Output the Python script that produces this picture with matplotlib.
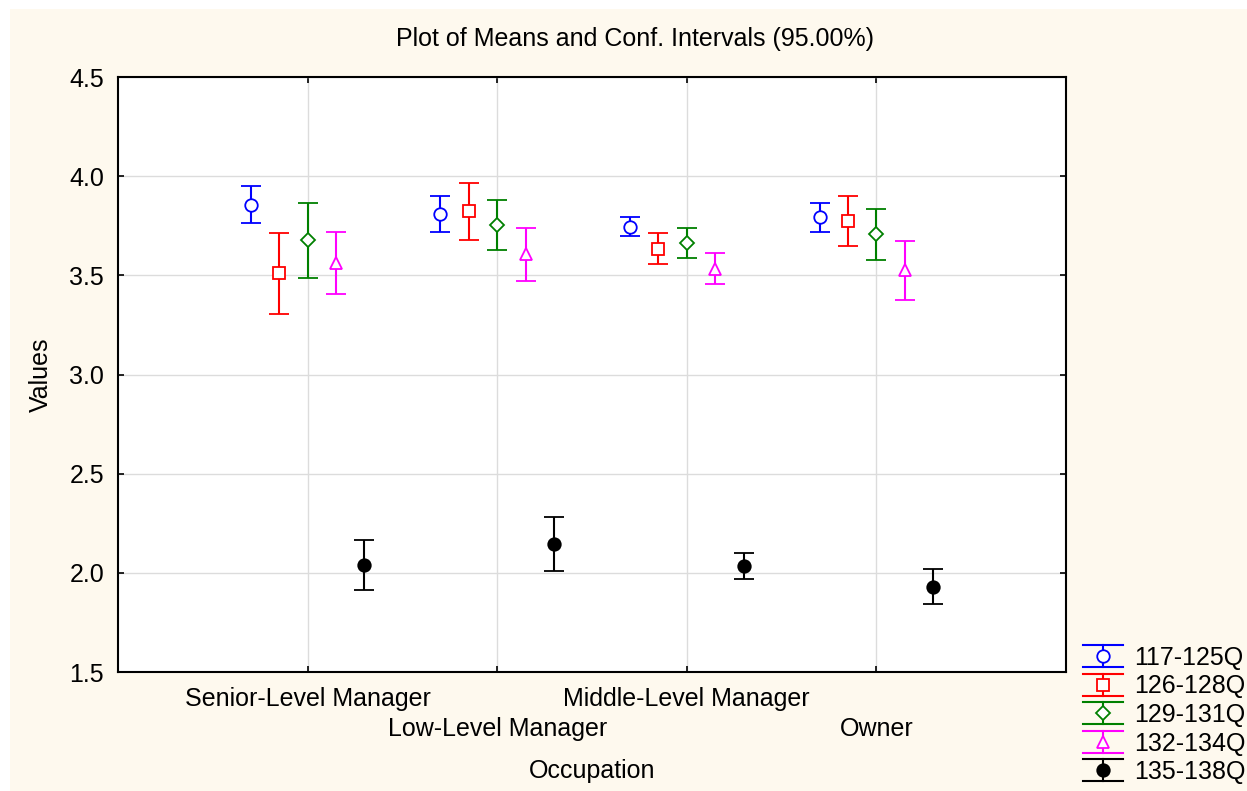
import matplotlib
matplotlib.use("Agg")
import matplotlib.pyplot as plt
import numpy as np
from matplotlib.legend_handler import HandlerBase
from matplotlib.lines import Line2D
from matplotlib.patches import Rectangle
from matplotlib.container import ErrorbarContainer

plt.rcParams['font.family'] = ['Liberation Sans', 'DejaVu Sans']

# Occupation groups along the x axis
categories = ["Senior-Level Manager", "Low-Level Manager", "Middle-Level Manager", "Owner"]
series_names = ["117-125Q", "126-128Q", "129-131Q", "132-134Q", "135-138Q"]

# Group means and 95% confidence half-widths for each item block
mean_117_125 = [3.856, 3.810, 3.745, 3.792]
ci_117_125 = [0.093, 0.092, 0.048, 0.074]
mean_126_128 = [3.510, 3.822, 3.635, 3.773]
ci_126_128 = [0.203, 0.146, 0.080, 0.127]
mean_129_131 = [3.676, 3.754, 3.662, 3.706]
ci_129_131 = [0.188, 0.128, 0.077, 0.129]
mean_132_134 = [3.562, 3.606, 3.534, 3.525]
ci_132_134 = [0.158, 0.135, 0.079, 0.147]
mean_135_138 = [2.040, 2.145, 2.036, 1.931]
ci_135_138 = [0.128, 0.136, 0.065, 0.088]

means = [mean_117_125, mean_126_128, mean_129_131, mean_132_134, mean_135_138]
cis = [ci_117_125, ci_126_128, ci_129_131, ci_132_134, ci_135_138]
colors = ["#0000FF", "#FF0000", "#008000", "#FF00FF", "#000000"]
markers = ["o", "s", "D", "^", "o"]
msizes = [9, 9, 7, 9, 9]
filled = [False, False, False, False, True]
offsets = [-0.3, -0.15, 0.0, 0.15, 0.3]

cream = "#FEF9EE"

fig = plt.figure(figsize=(12.47, 7.91), dpi=100, facecolor="white")
fig.patches.append(Rectangle((10 / 1247, 0), 1, 1 - 9 / 791, transform=fig.transFigure,
                             facecolor=cream, edgecolor="none", zorder=-10))

ax = fig.add_axes([118 / 1247, 1 - 672 / 791, (1066 - 118) / 1247, (672 - 77) / 791])
ax.set_facecolor("white")

x = np.arange(1, len(categories) + 1)


class CappedBarHandler(HandlerBase):
    """Legend key: vertical bar with wide caps and the series marker."""

    def create_artists(self, legend, orig_handle, xdescent, ydescent,
                       width, height, fontsize, trans):
        line = orig_handle.lines[0]
        color = line.get_color()
        cx = width / 2 - xdescent
        cy = height / 2 - ydescent
        half = 0.44 * fontsize
        x0, x1 = -xdescent, width - xdescent
        stem = Line2D([cx, cx], [cy - half, cy + half], color=color, lw=1.5)
        top = Line2D([x0, x1], [cy + half, cy + half], color=color, lw=1.5)
        bot = Line2D([x0, x1], [cy - half, cy - half], color=color, lw=1.5)
        mark = Line2D([cx], [cy], linestyle="none", marker=line.get_marker(),
                      markersize=line.get_markersize(),
                      markerfacecolor=line.get_markerfacecolor(),
                      markeredgecolor=color, markeredgewidth=line.get_markeredgewidth())
        arts = [stem, top, bot, mark]
        for a in arts:
            a.set_transform(trans)
        return arts


handles = []
for m, c, col, mk, ms, fl, off, name in zip(means, cis, colors, markers, msizes,
                                             filled, offsets, series_names):
    h = ax.errorbar(x + off, m, yerr=c, fmt=mk, color=col, ecolor=col,
                    markersize=ms, markerfacecolor=col if fl else "white",
                    markeredgecolor=col, markeredgewidth=1.3,
                    elinewidth=1.5, capsize=7, capthick=1.5, label=name, zorder=3)
    handles.append(h)

ax.set_xlim(0, 5)
ax.set_ylim(1.5, 4.5)
ax.set_yticks(np.arange(1.5, 4.51, 0.5))
ax.set_yticklabels([f"{v:.1f}" for v in np.arange(1.5, 4.51, 0.5)])
ax.set_xticks(x)
ax.set_xticklabels(categories)
ax.grid(True, color="#DCDCDC", lw=1.0, zorder=0)
ax.set_axisbelow(True)
ax.tick_params(direction="in", top=True, right=True, length=4, width=1.2,
               labelsize=18, colors="black")
ax.tick_params(axis="y", pad=10)
# staggered category labels: alternate rows
for i, tick in enumerate(ax.xaxis.get_major_ticks()):
    tick.set_pad(11 if i % 2 == 0 else 32.5)
for sp in ax.spines.values():
    sp.set_linewidth(1.5)
    sp.set_color("black")

fig.text(635 / 1247, 1 - 39 / 791, "Plot of Means and Conf. Intervals (95.00%)",
         ha="center", va="center", fontsize=18)
fig.text(41 / 1247, 1 - 375 / 791, "Values", rotation=90, ha="center", va="center",
         fontsize=18)
fig.text(592 / 1247, 1 - 771 / 791, "Occupation", ha="center", va="center", fontsize=18)

ax.legend(handles=handles, labels=series_names,
          handler_map={ErrorbarContainer: CappedBarHandler()},
          loc="lower left", bbox_to_anchor=(1083 / 1247, 7 / 791),
          bbox_transform=fig.transFigure, frameon=False, fontsize=18,
          borderpad=0, borderaxespad=0, handlelength=1.6, handletextpad=0.45,
          labelspacing=0.18)

fig.savefig("out.png", dpi=100, facecolor=fig.get_facecolor())
